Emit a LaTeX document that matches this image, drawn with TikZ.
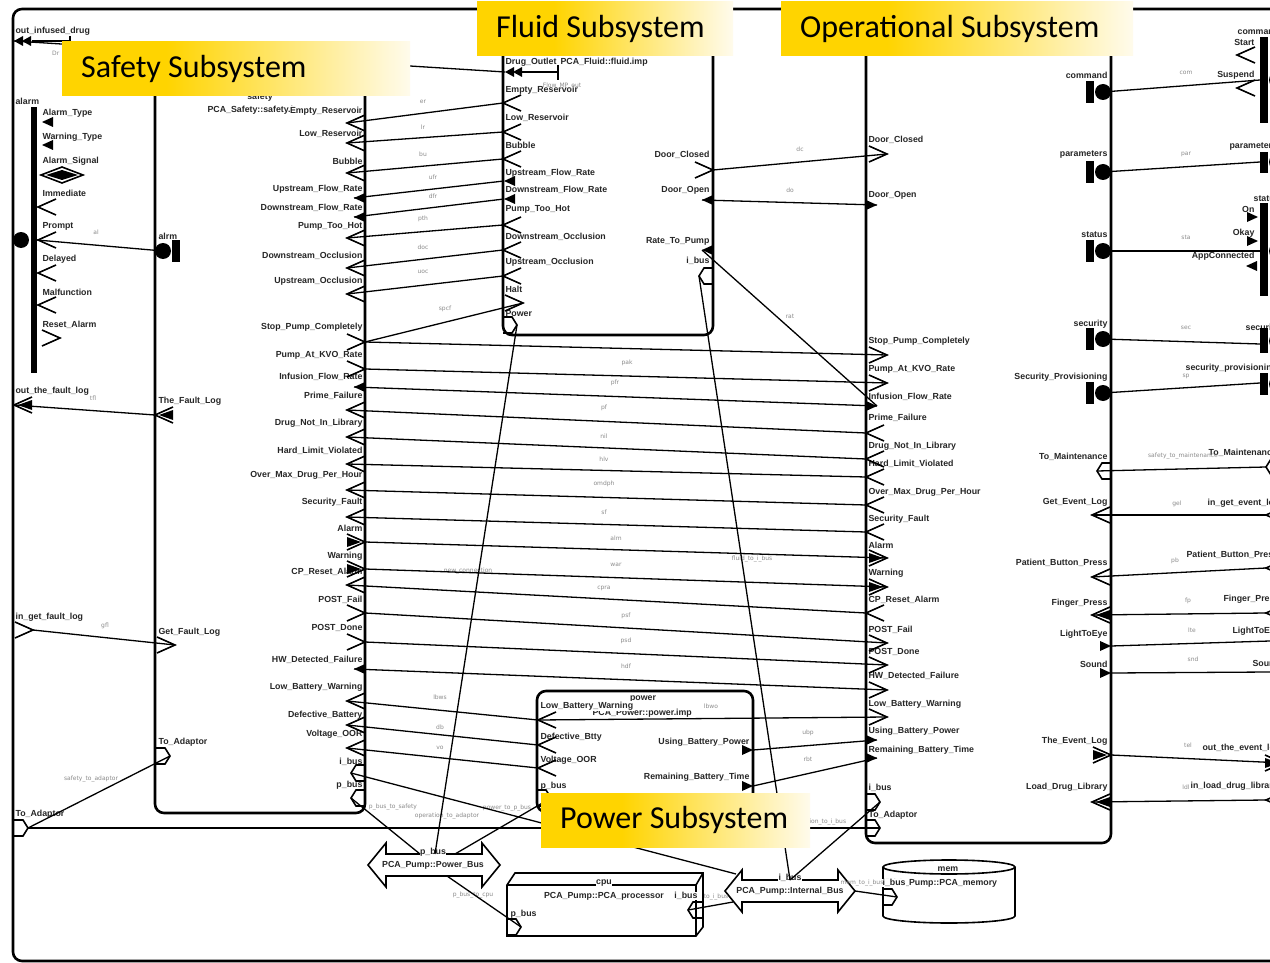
\documentclass[tikz,border=0pt]{standalone}
\usepackage{fontspec}
\setmainfont{Liberation Sans}
\newfontfamily\bannerfont{Carlito}
\newfontfamily\linkfont{DejaVu Sans}

\definecolor{bgold}{RGB}{255,212,0}
\definecolor{bcream}{RGB}{255,251,236}
\pgfdeclarehorizontalshading{banner}{100bp}{color(0bp)=(bgold); color(25bp)=(bgold); color(40bp)=(bgold); color(75bp)=(bcream); color(100bp)=(bcream)}

\tikzset{
  comp/.style={line width=2.6pt, rounded corners=9pt},
  conn/.style={line width=1.3pt},
  port/.style={font=\bfseries\fontsize{8.8}{10}\selectfont, text=black!85, inner sep=0.4pt, fill=white},
  clab/.style={font=\linkfont\fontsize{6}{7}\selectfont, text=black!45, inner sep=0pt},
  bannertxt/.style={font=\bannerfont\fontsize{32}{36}\selectfont, anchor=west, inner sep=0pt},
  chev/.pic={\draw[line width=1.6pt] (-18,-8) -- (0,0) -- (-18,8);},
  chevtri/.pic={\draw[line width=1.6pt] (-18,-8) -- (0,0) -- (-18,8);
                \fill (-18,-5) -- (-4,0) -- (-18,5) -- cycle;},
  tri/.pic={\fill (-11,-5) -- (0,0) -- (-11,5) -- cycle;},
  dtri/.pic={\fill (0,0) -- (9,-5) -- (9,5) -- cycle; \fill (8,0) -- (17,-5) -- (17,5) -- cycle;},
  hexp/.pic={\draw[line width=1.6pt] (-14,-8) -- (-5,-8) -- (0,0) -- (-5,8) -- (-14,8);},
  fgrp/.pic={\fill (0,0) circle[radius=8]; \fill (9,-11) rectangle (17,11);},
}

\begin{document}
\begin{tikzpicture}[x=1pt, y=-1pt]
  \useasboundingbox (0,0) rectangle (1270,963);
  \clip (0,0) rectangle (1270,963);
  \fill[white] (0,0) rectangle (1270,963);

  % system and subsystems
  \draw[comp] (13,9) rectangle (1292,961);
  \draw[comp] (155,70) rectangle (365,813);
  \draw[comp] (503,30) rectangle (713,335);
  \draw[comp] (866,30) rectangle (1111,843);
  \draw[comp] (537,691) rectangle (753,812);

  % buses, processor, memory
  \draw[line width=1.6pt, fill=white] (368,865) -- (386,843) -- (386,854) -- (482,854) -- (482,843) -- (500,865)
      -- (482,887) -- (482,876) -- (386,876) -- (386,887) -- cycle;
  \draw[line width=1.6pt, fill=white] (725,891) -- (742,870) -- (742,880) -- (838,880) -- (838,870) -- (855,891)
      -- (838,912) -- (838,902) -- (742,902) -- (742,912) -- cycle;
  \draw[line width=1.6pt, fill=white] (507,885) -- (515,873) -- (703,873) -- (703,927) -- (696,936) -- (507,936) -- cycle;
  \draw[line width=1.6pt] (507,885) -- (696,885) -- (703,873) (696,885) -- (696,936);
  \draw[line width=1.6pt, fill=white] (883,867) -- (883,916) arc[start angle=180, end angle=0, x radius=66, y radius=7] -- (1015,867);
  \draw[line width=1.6pt] (949,867) ellipse [x radius=66, y radius=7];

  % component names
  \node[port] at (260,97) {safety};
  \node[port, anchor=west] at (207,110) {PCA\_Safety::safety.imp};
  \node[port, anchor=west] at (560,62) {PCA\_Fluid::fluid.imp};
  \node[port] at (643,699) {power};
  \node[port, anchor=west] at (592,713) {PCA\_Power::power.imp};
  \node[port] at (604,883) {cpu};
  \node[port] at (604,896) {PCA\_Pump::PCA\_processor};
  \node[port] at (433,852) {p\_bus};
  \node[port, fill=none] at (433,865) {PCA\_Pump::Power\_Bus};
  \node[port] at (790,878) {i\_bus};
  \node[port, fill=none] at (790,891) {PCA\_Pump::Internal\_Bus};
  \node[port] at (948,869) {mem};
  \node[port, anchor=west] at (885,883) {PCA\_Pump::PCA\_memory};

  % port labels
  \foreach \t/\y in {Empty\_Reservoir/111, Low\_Reservoir/134, Bubble/161, Upstream\_Flow\_Rate/189,
      Downstream\_Flow\_Rate/208, Pump\_Too\_Hot/226, Downstream\_Occlusion/256, Upstream\_Occlusion/281,
      Stop\_Pump\_Completely/327, Pump\_At\_KVO\_Rate/355, Infusion\_Flow\_Rate/377, Prime\_Failure/396,
      Drug\_Not\_In\_Library/423, Hard\_Limit\_Violated/451, Over\_Max\_Drug\_Per\_Hour/475, Security\_Fault/502,
      Alarm/528, Warning/556, CP\_Reset\_Alarm/572, POST\_Fail/600, POST\_Done/628, HW\_Detected\_Failure/660,
      Low\_Battery\_Warning/687, Defective\_Battery/715, Voltage\_OOR/734, i\_bus/762, p\_bus/785}
    \node[port, anchor=east] at (363,\y) {\t};
  \foreach \t/\y in {alrm/236, The\_Fault\_Log/401, Get\_Fault\_Log/632, To\_Adaptor/742}
    \node[port, anchor=west] at (158,\y) {\t};
  \foreach \t/\y in {out\_infused\_drug/31, alarm/101, out\_the\_fault\_log/391, in\_get\_fault\_log/617, To\_Adaptor/814}
    \node[port, anchor=west] at (15,\y) {\t};
  \foreach \t/\y in {Alarm\_Type/113, Warning\_Type/137, Alarm\_Signal/161, Immediate/193, Prompt/226,
      Delayed/259, Malfunction/292, Reset\_Alarm/325}
    \node[port, anchor=west] at (42,\y) {\t};
  \foreach \t/\y in {Drug\_Outlet/62, Empty\_Reservoir/90, Low\_Reservoir/118, Bubble/145, Upstream\_Flow\_Rate/173,
      Downstream\_Flow\_Rate/190, Pump\_Too\_Hot/209, Downstream\_Occlusion/237, Upstream\_Occlusion/262, Halt/289, Power/314}
    \node[port, anchor=west] at (505,\y) {\t};
  \foreach \t/\y in {Door\_Closed/155, Door\_Open/190, Rate\_To\_Pump/241, i\_bus/261}
    \node[port, anchor=east] at (710,\y) {\t};
  \foreach \t/\y in {Door\_Closed/140, Door\_Open/195, Stop\_Pump\_Completely/341, Pump\_At\_KVO\_Rate/369,
      Infusion\_Flow\_Rate/397, Prime\_Failure/418, Drug\_Not\_In\_Library/446, Hard\_Limit\_Violated/464,
      Over\_Max\_Drug\_Per\_Hour/492, Security\_Fault/519, Alarm/545, Warning/573, CP\_Reset\_Alarm/600,
      POST\_Fail/630, POST\_Done/652, HW\_Detected\_Failure/676, Low\_Battery\_Warning/704,
      Using\_Battery\_Power/731, Remaining\_Battery\_Time/750, i\_bus/788, To\_Adaptor/815}
    \node[port, anchor=west] at (868,\y) {\t};
  \foreach \t/\y in {command/75, parameters/155, status/235, security/324, Security\_Provisioning/377,
      To\_Maintenance/457, Get\_Event\_Log/502, Patient\_Button\_Press/563, Finger\_Press/603, LightToEye/634,
      Sound/664, The\_Event\_Log/741, Load\_Drug\_Library/787}
    \node[port, anchor=east] at (1108,\y) {\t};
  \foreach \t/\x/\y in {command/1237/31, parameters/1229/147, status/1253/199, security/1245/328,
      security\_provisioning/1185/368, To\_Maintenance/1208/453, in\_get\_event\_log/1207/503,
      Patient\_Button\_Press/1186/555, Finger\_Press/1223/599, LightToEye/1232/631, Sound/1252/663,
      out\_the\_event\_log/1202/748, in\_load\_drug\_library/1190/786}
    \node[port, anchor=west] at (\x,\y) {\t};
  \foreach \t/\y in {Start/42, Suspend/75, On/209, Okay/233, AppConnected/256}
    \node[port, anchor=east] at (1255,\y) {\t};
  \foreach \t/\y in {Low\_Battery\_Warning/706, Defective\_Btty/737, Voltage\_OOR/760, p\_bus/786}
    \node[port, anchor=west] at (540,\y) {\t};
  \foreach \t/\y in {Using\_Battery\_Power/742, Remaining\_Battery\_Time/777}
    \node[port, anchor=east] at (750,\y) {\t};
  \node[port, anchor=west] at (510,914) {p\_bus};
  \node[port, anchor=east] at (698,896) {i\_bus};
  \node[port, anchor=west] at (882,883) {i\_bus};

  % connection names
  \node[clab, anchor=west] at (52,53) {Dr};
  \foreach \t/\x/\y in {al/96/232, tfl/93/398, gfl/105/626, safety\_to\_adaptor/91/779, operation\_to\_adaptor/447/816,
      Flow\_MP\_out/562/86, er/423/102, lr/423/127, bu/423/154, ufr/433/177, dfr/433/196, pth/423/219,
      doc/423/247, uoc/423/272, spcf/445/309, pak/627/363, pfr/615/383, pf/604/408, nil/604/436, hlv/604/459,
      omdph/604/484, sf/604/512, alm/616/538, war/616/565, cpra/604/588, psf/626/616, psd/626/641, hdf/626/666,
      new\_connection/468/571, fluid\_to\_i\_bus/752/559, dc/800/149, do/790/190, rat/790/316,
      lbws/440/697, db/440/727, vo/440/748, lbwo/711/706, ubp/808/733, rbt/808/759,
      p\_bus\_to\_safety/393/807, power\_to\_p\_bus/507/808, p\_bus\_to\_cpu/473/895, to\_i\_bus/716/897,
      mem\_to\_i\_bus/862/883, operation\_to\_i\_bus/818/822,
      com/1186/73, par/1186/154, sta/1186/237, sec/1186/328, sp/1186/376, safety\_to\_maintenance/1183/456,
      gel/1177/504, pb/1175/561, fp/1188/601, lte/1192/630, snd/1193/659, tel/1188/745, ldl/1186/787}
    \node[clab] at (\x,\y) {\t};

  % outer ports
  \coordinate (x-oid) at (14,41); \pic at (x-oid) {dtri};
  \draw[conn] (32,41) -- (70,41) (70,36) -- (70,46);
  \fill (21,240) circle[radius=8]; \fill (31,107) rectangle (37,373);
  \coordinate (x-al) at (37,240);
  \foreach \y in {122,145} \pic[xscale=-1] at (42,\y) {tri};
  \draw[line width=1.6pt] (41,175) -- (62,167) -- (83,175) -- (62,183) -- cycle;
  \fill (46,175) -- (62,170) -- (78,175) -- (62,180) -- cycle;
  \foreach \y in {207,240,273,305} \pic[xscale=-1] at (38,\y) {chev};
  \pic at (60,338) {chev};
  \coordinate (x-tfl) at (14,405); \pic[xscale=-1] at (x-tfl) {chevtri};
  \coordinate (x-gfl) at (33,630); \pic at (x-gfl) {chev};
  \coordinate (x-ta) at (28,828); \pic at (x-ta) {hexp};

  % safety ports
  \foreach \n/\y in {er/123, lr/143, bu/173, pth/238, doc/268, uoc/294, pf/410, nil/437, hlv/464,
      omdph/490, sf/517, cpra/585, lbw/701, db/725, vo/748}
    {\coordinate (s-\n) at (347,\y); \pic[xscale=-1] at (s-\n) {chev};}
  \foreach \n/\y in {ufr/198, dfr/217, ifr/387, hdf/669}
    {\coordinate (s-\n) at (354,\y); \pic[xscale=-1] at (s-\n) {tri};}
  \foreach \n/\y in {spc/342, pak/369, psf/613, psd/642}
    {\coordinate (s-\n) at (365,\y); \pic at (s-\n) {chev};}
  \foreach \n/\y in {alm/542, war/569}
    {\coordinate (s-\n) at (365,\y); \pic at (s-\n) {chevtri};}
  \foreach \n/\y in {ib/773, pb/798}
    {\coordinate (s-\n) at (351,\y); \pic[xscale=-1] at (s-\n) {hexp};}
  \coordinate (s-alrm) at (163,251); \pic at (s-alrm) {fgrp};
  \coordinate (s-tfl) at (155,415); \pic[xscale=-1] at (s-tfl) {chevtri};
  \coordinate (s-gfl) at (175,645); \pic at (s-gfl) {chev};
  \coordinate (s-ta) at (170,756); \pic at (s-ta) {hexp};

  % fluid ports
  \coordinate (f-do) at (505,72); \pic at (f-do) {dtri};
  \draw[conn] (521,72) -- (558,72) (558,65) -- (558,80);
  \foreach \n/\y in {er/103, lr/132, bu/159, pth/225, doc/250, uoc/276}
    {\coordinate (f-\n) at (503,\y); \pic[xscale=-1] at (f-\n) {chev};}
  \foreach \n/\y in {ufr/181, dfr/199}
    {\coordinate (f-\n) at (504,\y); \pic[xscale=-1] at (f-\n) {tri};}
  \coordinate (f-halt) at (523,303); \pic at (f-halt) {chev};
  \coordinate (f-pow) at (517,325); \pic at (f-pow) {hexp};
  \coordinate (f-dc) at (713,170); \pic at (f-dc) {chev};
  \foreach \n/\y in {dop/200, rtp/250}
    {\coordinate (f-\n) at (702,\y); \pic[xscale=-1] at (f-\n) {tri};}
  \coordinate (f-ib) at (699,276); \pic[xscale=-1] at (f-ib) {hexp};

  % operational ports
  \foreach \n/\y in {dc/154, spc/355, pak/383, psf/643, psd/665, hdf/690, lbw/717}
    {\coordinate (o-\n) at (887,\y); \pic at (o-\n) {chev};}
  \foreach \n/\y in {dop/205, ifr/406, ubp/740, rbt/758}
    {\coordinate (o-\n) at (877,\y); \pic at (o-\n) {tri};}
  \foreach \n/\y in {pf/433, nil/459, hlv/477, omdph/505, sf/532, cpra/613}
    {\coordinate (o-\n) at (866,\y); \pic[xscale=-1] at (o-\n) {chev};}
  \foreach \n/\y in {alm/558, war/587}
    {\coordinate (o-\n) at (887,\y); \pic at (o-\n) {chevtri};}
  \foreach \n/\y in {ib/802, ta/828}
    {\coordinate (o-\n) at (880,\y); \pic at (o-\n) {hexp};}
  \foreach \n/\y in {com/92, par/172, sta/251, sec/339, sp/393}
    {\coordinate (o-\n) at (1103,\y); \pic[xscale=-1] at (o-\n) {fgrp};}
  \coordinate (o-tm) at (1097,471); \pic[xscale=-1] at (o-tm) {hexp};
  \foreach \n/\y in {gel/515, pb/577}
    {\coordinate (o-\n) at (1092,\y); \pic[xscale=-1] at (o-\n) {chev};}
  \foreach \n/\y in {fp/615, ldl/802}
    {\coordinate (o-\n) at (1092,\y); \pic[xscale=-1] at (o-\n) {chevtri};}
  \foreach \n/\y in {lte/646, snd/673}
    {\coordinate (o-\n) at (1111,\y); \pic at (o-\n) {tri};}
  \coordinate (o-tel) at (1111,755); \pic at (o-tel) {chevtri};

  % power ports
  \foreach \n/\y in {lbw/720, db/745, vo/768}
    {\coordinate (p-\n) at (538,\y); \pic[xscale=-1] at (p-\n) {chev};}
  \coordinate (p-pb) at (551,798); \pic at (p-pb) {hexp};
  \foreach \n/\y in {ubp/750, rbt/786}
    {\coordinate (p-\n) at (753,\y); \pic at (p-\n) {tri};}

  % processor, memory, bus ends
  \coordinate (c-pb) at (521,927); \pic at (c-pb) {hexp};
  \coordinate (c-ib) at (688,910); \pic[xscale=-1] at (c-ib) {hexp};
  \coordinate (m-ib) at (897,897); \pic at (m-ib) {hexp};
  \coordinate (pb-a) at (420,854); \coordinate (pb-b) at (435,854);
  \coordinate (pb-c) at (455,854); \coordinate (pb-d) at (447,876);
  \coordinate (ib-a) at (790,880); \coordinate (ib-b) at (736,874);
  \coordinate (ib-c) at (733,902); \coordinate (ib-d) at (855,891);

  % right-hand outer ports
  \foreach \ya/\yb/\yc in {37/123/80, 152/173/162, 203/296/251, 328/353/341, 373/395/384}
    {\fill (1260,\ya) rectangle (1268,\yb); \fill (1277,\yc) circle[radius=8];}
  \foreach \y in {55,88} \pic[xscale=-1] at (1237,\y) {chev};
  \foreach \y in {217,241} \pic at (1258,\y) {tri};
  \pic[xscale=-1] at (1246,266) {tri};
  \foreach \n/\y in {com/80, par/162, sta/251, sec/344, sp/383}
    \coordinate (r-\n) at (1260,\y);
  \coordinate (r-tm) at (1266,467); \pic[xscale=-1] at (r-tm) {hexp};
  \foreach \n/\y in {gel/515, pb/568, ldl/800}
    {\coordinate (r-\n) at (1266,\y); \pic[xscale=-1] at (r-\n) {chev};}
  \coordinate (r-fp) at (1266,613); \pic[xscale=-1] at (r-fp) {chevtri};
  \coordinate (r-lte) at (1270,641); \coordinate (r-snd) at (1270,672);
  \coordinate (r-tel) at (1283,763); \pic at (r-tel) {chevtri};

  % connections
  \foreach \a/\b in {x-oid/f-do, x-al/s-alrm, x-tfl/s-tfl, x-gfl/s-gfl, x-ta/s-ta, x-ta/o-ta,
      f-er/s-er, f-lr/s-lr, f-bu/s-bu, f-ufr/s-ufr, f-dfr/s-dfr, f-pth/s-pth, f-doc/s-doc, f-uoc/s-uoc,
      s-spc/f-halt, f-pow/pb-b, s-spc/o-spc, s-pak/o-pak, o-ifr/s-ifr, o-pf/s-pf, o-nil/s-nil, o-hlv/s-hlv,
      o-omdph/s-omdph, o-sf/s-sf, s-alm/o-alm, s-war/o-war, o-cpra/s-cpra, s-psf/o-psf, s-psd/o-psd, s-hdf/o-hdf,
      f-dc/o-dc, f-dop/o-dop, f-rtp/o-ifr, f-ib/ib-a,
      s-lbw/p-lbw, s-db/p-db, s-vo/p-vo, p-lbw/o-lbw, p-ubp/o-ubp, p-rbt/o-rbt,
      s-pb/pb-a, s-ib/ib-b, p-pb/pb-c, c-pb/pb-d, c-ib/ib-c, m-ib/ib-d, o-ib/ib-a,
      o-com/r-com, o-par/r-par, o-sta/r-sta, o-sec/r-sec, o-sp/r-sp, o-tm/r-tm, r-gel/o-gel, r-pb/o-pb,
      r-fp/o-fp, r-lte/o-lte, r-snd/o-snd, o-tel/r-tel, r-ldl/o-ldl}
    \draw[conn] (\a) -- (\b);

  % subsystem banners
  \foreach \x/\y/\w/\t in {62/42/348/Safety Subsystem, 477/2/256/Fluid Subsystem,
      781/2/352/Operational Subsystem, 541/793/269/Power Subsystem}
    {\shade[shading=banner] (\x,\y) rectangle ++(\w,54);
     \node[bannertxt] at (\x+19,\y+27) {\t};}
\end{tikzpicture}
\end{document}
